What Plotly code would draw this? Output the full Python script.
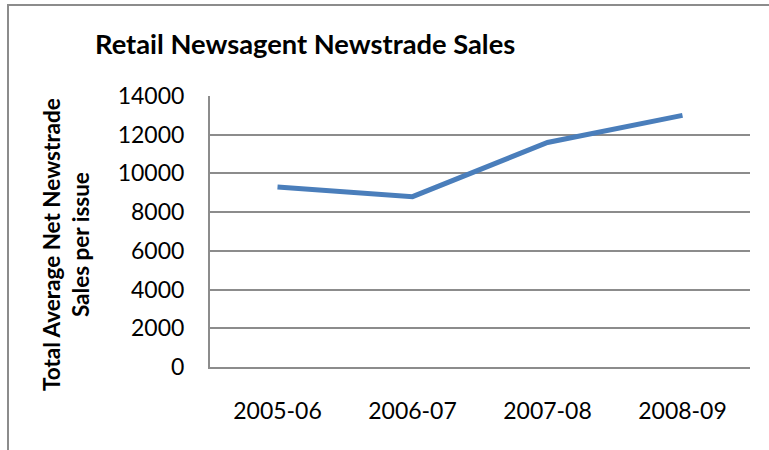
import plotly.graph_objects as go

categories = ["2005-06", "2006-07", "2007-08", "2008-09"]
sales = [9300, 8800, 11600, 13000]
y_ticks = [0, 2000, 4000, 6000, 8000, 10000, 12000, 14000]

W, H = 769, 450
L, R, T, B = 210, 19, 96, 450 - 367
pw = W - L - R
ph = H - T - B

def px_x(x):
    return (x - L) / pw

def px_y(y):
    return (H - B - y) / ph

FONT = "Lato"
GRID = "#8C8C8C"

fig = go.Figure()
fig.add_trace(go.Scatter(
    x=categories, y=sales, mode="lines",
    line=dict(color="#4A7EBB", width=5),
    hoverinfo="skip", showlegend=False,
))

fig.update_layout(
    width=W, height=H,
    margin=dict(l=L, r=R, t=T, b=B, pad=0),
    paper_bgcolor="white", plot_bgcolor="white",
    font=dict(family=FONT, size=23, color="#000000"),
    title=dict(
        text="<b>Retail Newsagent Newstrade Sales</b>",
        x=95 / W, xanchor="left", xref="container",
        y=1 - 44 / H, yanchor="middle", yref="container",
        font=dict(family=FONT, size=27.3, color="#000000"),
    ),
    xaxis=dict(
        type="category", range=[-0.5, 3.5],
        showgrid=False, showline=True, linecolor=GRID, linewidth=2,
        ticks="", ticklabelstandoff=22,
        tickfont=dict(family=FONT, size=23),
    ),
    yaxis=dict(
        range=[0, 14000], tickvals=y_ticks, ticktext=[str(v) for v in y_ticks],
        showgrid=True, gridcolor=GRID, gridwidth=2,
        zeroline=False, showline=True, linecolor=GRID, linewidth=2,
        ticks="", ticklabelstandoff=19,
        tickfont=dict(family=FONT, size=23),
    ),
    annotations=[dict(
        text="<b>Total Average Net Newstrade<br>Sales per issue</b>",
        x=px_x(66), y=px_y(245), xref="paper", yref="paper",
        xanchor="center", yanchor="middle", textangle=-90,
        showarrow=False, font=dict(family=FONT, size=22.5, color="#000000"),
    )],
    shapes=[
        dict(type="line", xref="paper", yref="paper",
             x0=px_x(8), x1=px_x(8), y0=px_y(452), y1=px_y(5),
             line=dict(color=GRID, width=2)),
        dict(type="line", xref="paper", yref="paper",
             x0=px_x(7), x1=px_x(771), y0=px_y(5), y1=px_y(5),
             line=dict(color=GRID, width=2)),
    ],
)

fig.write_html(
    "out.html",
    config={"displayModeBar": False},
    post_script="document.body.style.margin='0';document.body.style.overflow='hidden';",
)
